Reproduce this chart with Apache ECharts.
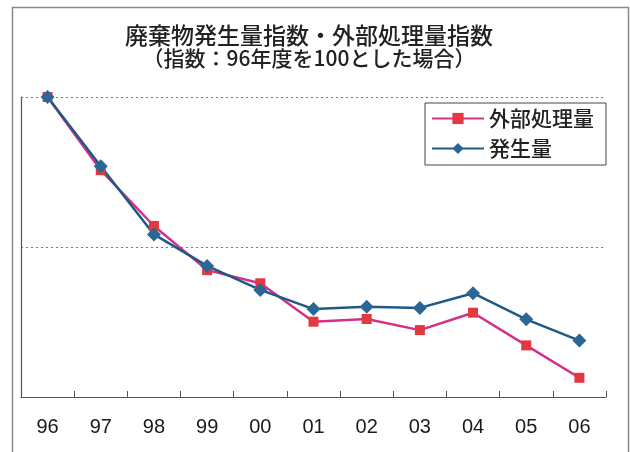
<!DOCTYPE html>
<html>
<head>
<meta charset="utf-8">
<script src="https://cdn.jsdelivr.net/npm/echarts@6/dist/echarts.min.js"></script>
<style>
html,body{margin:0;padding:0;background:#fff;}
#chart{width:630px;height:452px;}
</style>
</head>
<body>
<div id="chart"></div>
<script>
const categories = ['96','97','98','99','00','01','02','03','04','05','06'];
const gaibuShori = [100, 75.6, 57.0, 42.3, 37.9, 25.1, 26.0, 22.3, 28.1, 17.2, 6.4];
const hassei = [100, 76.9, 54.2, 43.7, 35.7, 29.3, 30.1, 29.7, 34.6, 25.9, 18.8];
const seriesNames = ['外部処理量', '発生量'];
const titleLine1 = '廃棄物発生量指数・外部処理量指数';
const titleLine2 = '（指数：96年度を100とした場合）';

const FONT = '"Noto Sans CJK JP", "Noto Sans", sans-serif';
const chart = echarts.init(document.getElementById('chart'), null, {renderer: 'canvas'});
chart.setOption({
  backgroundColor: '#ffffff',
  animation: false,
  title: [
    {text: titleLine1, left: 309, top: 23, textAlign: 'center', padding: 0,
     textStyle: {fontFamily: FONT, fontSize: 23, fontWeight: 500, color: '#222', lineHeight: 24}},
    {text: titleLine2, left: 309, top: 46, textAlign: 'center', padding: 0,
     textStyle: {fontFamily: FONT, fontSize: 21, fontWeight: 500, color: '#222', lineHeight: 24}}
  ],
  graphic: [
    {type: 'rect', left: 10, top: 5, z: 0, silent: true,
     shape: {width: 616, height: 470},
     style: {fill: 'none', stroke: '#888', lineWidth: 1.5}}
  ],
  legend: {
    orient: 'vertical', left: 425, top: 103,
    borderColor: '#444', borderWidth: 1,
    padding: [5, 12, 6, 6], itemGap: 9,
    itemWidth: 52, itemHeight: 14,
    backgroundColor: '#fff',
    textStyle: {fontFamily: FONT, fontSize: 21, fontWeight: 500, color: '#222'},
    data: seriesNames
  },
  grid: {left: 21, top: 97, width: 585, height: 300, containLabel: false},
  xAxis: {
    type: 'category', data: categories, boundaryGap: true,
    axisLine: {lineStyle: {color: '#555', width: 1.2}},
    axisTick: {show: true, inside: true, length: 6, lineStyle: {color: '#555'}},
    axisLabel: {fontFamily: '"Liberation Sans", Arial, sans-serif', fontSize: 20, color: '#1a1a1a', margin: 20},
    splitLine: {show: false}
  },
  yAxis: {
    type: 'value', min: 0, max: 100, interval: 50,
    axisLine: {show: true, lineStyle: {color: '#555', width: 1.2}},
    axisTick: {show: false},
    axisLabel: {show: false},
    splitLine: {show: true, lineStyle: {color: '#777', type: [2, 3], width: 1}}
  },
  series: [
    {name: seriesNames[0], type: 'line', data: gaibuShori,
     symbol: 'rect', symbolSize: 10,
     lineStyle: {color: '#d4308a', width: 2.5},
     itemStyle: {color: '#e2383f'}},
    {name: seriesNames[1], type: 'line', data: hassei,
     symbol: 'diamond', symbolSize: 14,
     lineStyle: {color: '#1f5a85', width: 2.5},
     itemStyle: {color: '#2a6796'}}
  ]
});
</script>
</body>
</html>
